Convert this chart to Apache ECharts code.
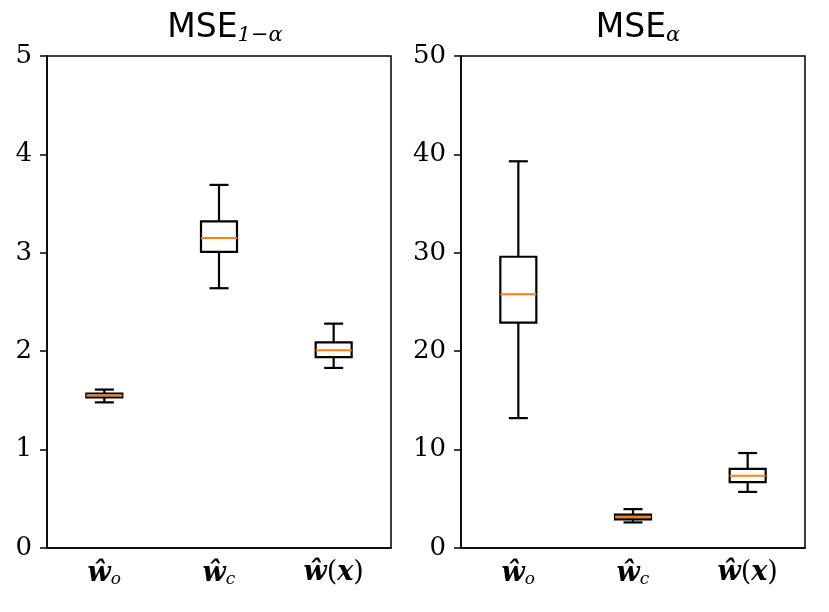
<!DOCTYPE html>
<html>
<head>
<meta charset="utf-8">
<script src="https://cdn.jsdelivr.net/npm/echarts@6/dist/echarts.min.js"></script>
<style>
  html, body { margin: 0; padding: 0; background: #fff; }
  #chart { width: 829px; height: 612px; }
</style>
</head>
<body>
<div id="chart"></div>
<script>
// categories (x tick labels)
const cats = ['wo', 'wc', 'wx'];

// MSE_{1-alpha} panel: box statistics per category
const leftLow  = [1.48, 2.64, 1.83];
const leftQ1   = [1.53, 3.01, 1.94];
const leftMed  = [1.55, 3.15, 2.01];
const leftQ3   = [1.57, 3.32, 2.09];
const leftHigh = [1.61, 3.69, 2.28];

// MSE_alpha panel
const rightLow  = [13.2, 2.6, 5.7];
const rightQ1   = [22.9, 2.9, 6.7];
const rightMed  = [25.8, 3.15, 7.35];
const rightQ3   = [29.6, 3.4, 8.05];
const rightHigh = [39.3, 3.95, 9.65];

// y ticks
const leftTicks = [0, 1, 2, 3, 4, 5];
const rightTicks = [0, 10, 20, 30, 40, 50];

let myChart = echarts.init(document.getElementById('chart'));

function rows(low, q1, med, q3, high) {
  return cats.map((c, i) => [i, low[i], q1[i], med[i], q3[i], high[i]]);
}

// box + whiskers + caps drawn from axis coords
function renderBox(params, api) {
  let x = api.value(0);
  let pLow = api.coord([x, api.value(1)]);
  let pQ1 = api.coord([x, api.value(2)]);
  let pMed = api.coord([x, api.value(3)]);
  let pQ3 = api.coord([x, api.value(4)]);
  let pHigh = api.coord([x, api.value(5)]);
  let cx = pLow[0];
  let hw = 18, cw = 9.5;
  let line = { stroke: '#000', lineWidth: 2.2 };
  return {
    type: 'group',
    children: [
      { type: 'line', shape: { x1: cx, y1: pQ1[1], x2: cx, y2: pLow[1] }, style: line },
      { type: 'line', shape: { x1: cx, y1: pQ3[1], x2: cx, y2: pHigh[1] }, style: line },
      { type: 'line', shape: { x1: cx - cw, y1: pLow[1], x2: cx + cw, y2: pLow[1] }, style: line },
      { type: 'line', shape: { x1: cx - cw, y1: pHigh[1], x2: cx + cw, y2: pHigh[1] }, style: line },
      { type: 'rect', shape: { x: cx - hw, y: pQ3[1], width: hw * 2, height: pQ1[1] - pQ3[1] },
        style: { fill: 'none', stroke: '#000', lineWidth: 2.2 } },
      { type: 'line', shape: { x1: cx - hw, y1: pMed[1], x2: cx + hw, y2: pMed[1] },
        style: { stroke: '#ff7f0e', lineWidth: 2 } }
    ]
  };
}

const serif = 'DejaVu Serif';
const xRich = {
  w: { fontFamily: serif, fontStyle: 'italic', fontWeight: 'bold', fontSize: 27, color: '#000' },
  s: { fontFamily: serif, fontStyle: 'italic', fontSize: 17, color: '#000', padding: [12, 0, 0, 0] },
  p: { fontFamily: serif, fontSize: 27, color: '#000' }
};
function xLabel(v) {
  if (v === 'wo') return '{w|ŵ}{s|o}';
  if (v === 'wc') return '{w|ŵ}{s|c}';
  return '{w|ŵ}{p|(}{w|x}{p|)}';
}

function xAxisOf(idx) {
  return {
    type: 'category', gridIndex: idx, data: cats,
    axisLine: { lineStyle: { color: '#000', width: 1.5 } },
    axisTick: { alignWithLabel: true, length: 7, lineStyle: { color: '#000', width: 1.5 } },
    axisLabel: { formatter: xLabel, rich: xRich, margin: 11, interval: 0 },
    splitLine: { show: false }
  };
}
function yAxisOf(idx, max, step) {
  return {
    type: 'value', gridIndex: idx, min: 0, max: max, interval: step,
    axisLine: { show: true, lineStyle: { color: '#000', width: 1.5 } },
    axisTick: { show: true, length: 7, lineStyle: { color: '#000', width: 1.5 } },
    axisLabel: { fontFamily: serif, fontSize: 26, color: '#000', margin: 15 },
    splitLine: { show: false }
  };
}

const titleRich = {
  a: { fontFamily: 'DejaVu Sans', fontSize: 33, fontWeight: 'normal', color: '#000' },
  b: { fontFamily: serif, fontStyle: 'italic', fontWeight: 'normal', fontSize: 21, color: '#000', padding: [14, 0, 0, 0] }
};

option = {
  backgroundColor: '#fff',
  animation: false,
  title: [
    { text: '{a|MSE}{b|1−α}', left: 220, top: 6, textAlign: 'center',
      textStyle: { fontWeight: 'normal', rich: titleRich } },
    { text: '{a|MSE}{b|α}', left: 633, top: 6, textAlign: 'center',
      textStyle: { fontWeight: 'normal', rich: titleRich } }
  ],
  grid: [
    { left: 47, top: 56, width: 344, height: 492, show: true, borderColor: '#000', borderWidth: 1.5 },
    { left: 461, top: 56, width: 344, height: 492, show: true, borderColor: '#000', borderWidth: 1.5 }
  ],
  xAxis: [xAxisOf(0), xAxisOf(1)],
  yAxis: [yAxisOf(0, leftTicks[leftTicks.length - 1], leftTicks[1]),
          yAxisOf(1, rightTicks[rightTicks.length - 1], rightTicks[1])],
  series: [
    { type: 'custom', xAxisIndex: 0, yAxisIndex: 0, renderItem: renderBox,
      encode: { x: 0, y: [1, 2, 3, 4, 5] },
      data: rows(leftLow, leftQ1, leftMed, leftQ3, leftHigh) },
    { type: 'custom', xAxisIndex: 1, yAxisIndex: 1, renderItem: renderBox,
      encode: { x: 0, y: [1, 2, 3, 4, 5] },
      data: rows(rightLow, rightQ1, rightMed, rightQ3, rightHigh) }
  ]
};

myChart.setOption(option);
</script>
</body>
</html>
